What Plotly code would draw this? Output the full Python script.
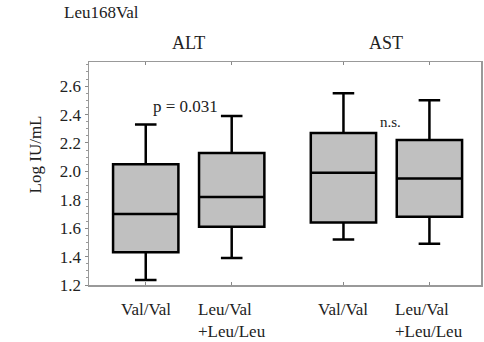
import plotly.graph_objects as go

# Data (Log IU/mL)
groups = ["Val/Val", "Leu/Val<br>+Leu/Leu", "Val/Val", "Leu/Val<br>+Leu/Leu"]
positions = [1, 2, 3.3, 4.3]
lower = [1.235, 1.39, 1.52, 1.49]
q1 = [1.43, 1.61, 1.64, 1.68]
median = [1.70, 1.82, 1.99, 1.95]
q3 = [2.05, 2.13, 2.27, 2.22]
upper = [2.33, 2.39, 2.55, 2.50]
y_ticks = [1.2, 1.4, 1.6, 1.8, 2.0, 2.2, 2.4, 2.6]

FONT = "Liberation Serif"
TXT = "#222"

fig = go.Figure()
fig.add_trace(go.Box(
    x=positions, q1=q1, median=median, q3=q3,
    lowerfence=lower, upperfence=upper,
    width=0.76, whiskerwidth=0.33,
    fillcolor="#c0c0c0", line=dict(color="black", width=2.5),
    boxpoints=False, hoverinfo="skip", showlegend=False,
))

annotations = []
for xp, lab in zip(positions, groups):
    annotations.append(dict(x=xp, y=-0.06, xref="x", yref="paper", text=lab,
                            showarrow=False, xanchor="center", yanchor="top",
                            align="left", font=dict(family=FONT, size=17, color=TXT)))
annotations += [
    dict(x=-0.07, y=1.22, xref="paper", yref="paper", text="Leu168Val", showarrow=False,
         xanchor="left", yanchor="middle", font=dict(family=FONT, size=17, color=TXT)),
    dict(x=1.5, y=1.085, xref="x", yref="paper", text="ALT", showarrow=False,
         xanchor="center", yanchor="middle", font=dict(family=FONT, size=18, color=TXT)),
    dict(x=3.8, y=1.085, xref="x", yref="paper", text="AST", showarrow=False,
         xanchor="center", yanchor="middle", font=dict(family=FONT, size=18, color=TXT)),
    dict(x=1.46, y=2.46, xref="x", yref="y", text="p = 0.031", showarrow=False,
         xanchor="center", yanchor="middle", font=dict(family=FONT, size=17, color=TXT)),
    dict(x=3.85, y=2.35, xref="x", yref="y", text="n.s.", showarrow=False,
         xanchor="center", yanchor="middle", font=dict(family=FONT, size=15, color=TXT)),
    dict(x=-0.137, y=0.587, xref="paper", yref="paper", text="Log IU/mL", showarrow=False,
         textangle=-90, xanchor="center", yanchor="middle",
         font=dict(family=FONT, size=17, color=TXT)),
]

fig.update_layout(
    width=484, height=342,
    margin=dict(l=89, r=1, t=62, b=57),
    paper_bgcolor="white", plot_bgcolor="white",
    annotations=annotations,
    xaxis=dict(range=[0.34, 4.9], tickvals=positions, showticklabels=False,
               ticks="inside", ticklen=3, tickcolor="#888",
               showline=True, linecolor="#999", linewidth=1.5, mirror="ticks",
               showgrid=False, zeroline=False, fixedrange=True),
    yaxis=dict(range=[1.2, 2.77], tickvals=y_ticks, ticktext=[f"{v:.1f}" for v in y_ticks],
               ticks="outside", ticklen=3, tickcolor="#888",
               minor=dict(dtick=0.05, ticks="outside", ticklen=2, tickcolor="#999"),
               showline=True, linecolor="#999", linewidth=1.5, mirror=True,
               showgrid=False, zeroline=False,
               tickfont=dict(family=FONT, size=17, color=TXT)),
)

fig.write_html("out.html", config={"displayModeBar": False, "staticPlot": True},
               post_script="document.body.style.margin='0';document.body.style.padding='0';")
